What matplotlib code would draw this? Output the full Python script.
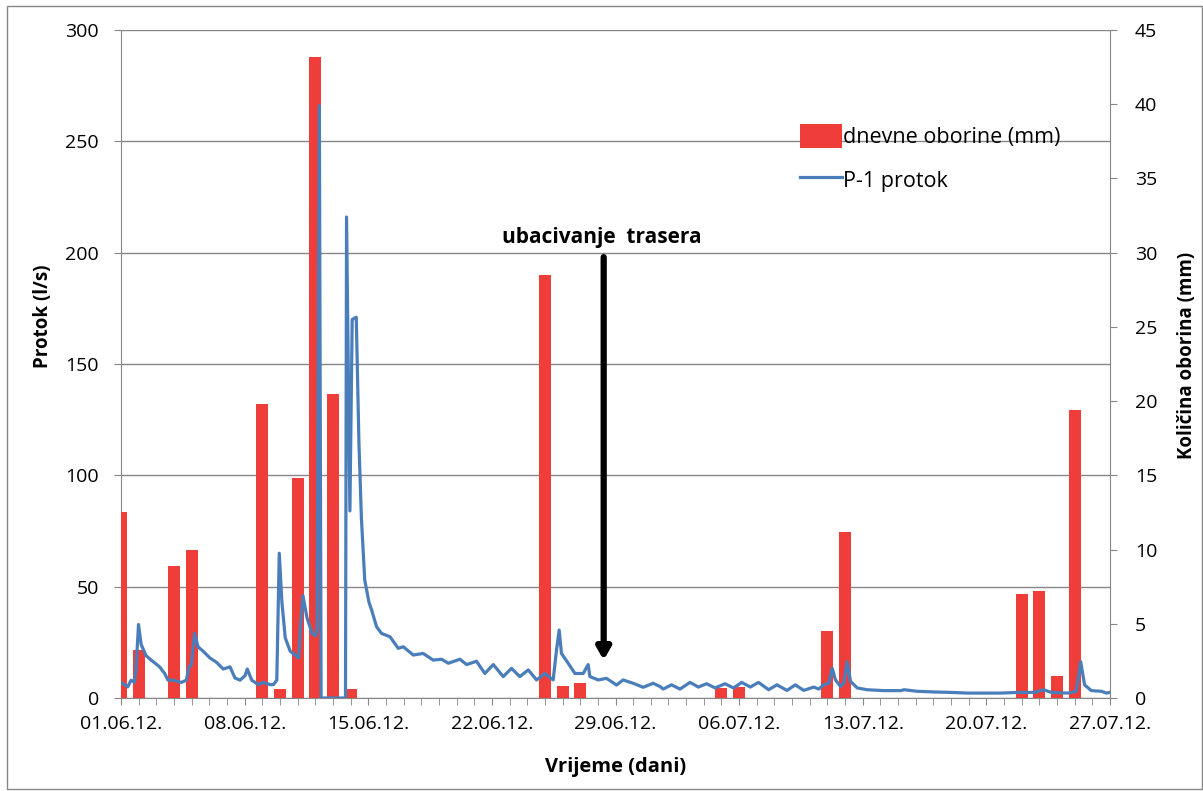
import matplotlib.pyplot as plt
from matplotlib.patches import Patch, Rectangle
from matplotlib.lines import Line2D

plt.rcParams['font.family'] = ['Open Sans', 'DejaVu Sans']

# dnevne oborine (mm), dan od 01.06.12.
dani_oborine = [0, 1, 3, 4, 8, 9, 10, 11, 12, 13, 24, 25, 26, 34, 35, 40, 41, 51, 52, 53, 54]
oborine = [12.5, 3.2, 8.9, 10.0, 19.8, 0.6, 14.8, 43.2, 20.5, 0.6, 28.5, 0.8, 1.0,
           0.65, 0.75, 4.5, 11.2, 7.0, 7.2, 1.45, 19.4]

# P-1 protok (l/s)
vrijeme = [0.00, 0.38, 0.57, 0.76, 0.85, 0.99, 1.14, 1.42, 1.71, 2.18, 2.47, 2.66, 2.94,
           3.42, 3.70, 3.85, 3.98, 4.17, 4.36, 4.65, 5.03, 5.41, 5.79, 6.17, 6.45, 6.74,
           7.02, 7.15, 7.40, 7.78, 8.06, 8.44, 8.63, 8.82, 8.96, 9.11, 9.30, 9.58, 10.06,
           10.15, 10.30, 10.53, 10.82, 11.01, 11.10, 11.23, 11.33, 12.71, 12.77, 12.96,
           13.09, 13.32, 13.47, 13.61, 13.80, 14.04, 14.19, 14.47, 14.75, 15.23, 15.70,
           15.98, 16.55, 17.11, 17.68, 18.15, 18.53, 19.19, 19.57, 20.13, 20.60, 21.08,
           21.64, 22.11, 22.58, 23.06, 23.53, 24.00, 24.47, 24.66, 24.81, 24.94, 25.32,
           25.70, 26.17, 26.45, 26.55, 27.02, 27.49, 28.06, 28.43, 29.00, 29.57, 30.13,
           30.51, 30.70, 31.17, 31.65, 32.22, 32.69, 33.16, 33.64, 34.20, 34.68, 35.15,
           35.63, 36.10, 36.67, 37.14, 37.71, 38.18, 38.66, 39.22, 39.51, 39.79, 40.08,
           40.27, 40.45, 40.74, 40.93, 41.12, 41.31, 41.69, 42.25, 43.20, 44.15, 44.34,
           45.09, 46.04, 46.99, 47.94, 48.88, 49.83, 50.78, 51.72, 52.25, 52.67, 53.62,
           54.09, 54.34, 54.56, 54.94, 55.51, 55.80, 56.00]
protok = [7, 5, 8, 7, 13, 33, 24, 19, 17, 14, 11, 8, 8,
          7, 8, 14, 15, 29, 23, 21, 18, 16, 13, 14, 9, 8,
          10, 13, 8, 6, 7, 6, 6, 8, 65, 43, 27, 21, 18,
          31, 46, 36, 29, 28, 31, 266, 0, 0, 216, 84,
          170, 171, 115, 81, 53, 43, 39.5, 32, 29, 27.5, 22.3,
          23, 19.3, 20, 17, 17.4, 15.6, 17.4, 15, 16.5, 11, 15,
          9.6, 13.3, 9.6, 12.6, 8.1, 11, 8.1, 21.6, 30.5, 20, 15.6,
          11, 11, 15, 9.6, 8.1, 8.8, 5.8, 8.1, 6.6, 4.8, 6.6,
          5.2, 4, 5.9, 4, 7, 4.9, 6.4, 4.5, 6.4, 4.5, 7,
          4.9, 7, 3.7, 5.9, 3.4, 5.9, 3.4, 4.9, 4, 5.9, 6.7,
          13.4, 8.2, 5.2, 6.7, 16.3, 7.4, 4.5, 3.7, 3.3, 3.3, 3.7,
          3, 2.7, 2.5, 2.2, 2.2, 2.2, 2.5, 2.5, 3.7, 2.5, 2.2,
          3, 16.3, 5.9, 3.3, 3, 2.2, 2.5]

oznake_dani = [0, 7, 14, 21, 28, 35, 42, 49, 56]
oznake = ['01.06.12.', '08.06.12.', '15.06.12.', '22.06.12.', '29.06.12.',
          '06.07.12.', '13.07.12.', '20.07.12.', '27.07.12.']

crvena = '#EF3E3A'
plava = '#4A7EBB'
siva = '#868686'

fig = plt.figure(figsize=(12.03, 7.91), dpi=100)
ax = fig.add_axes([0.1006, 0.1176, 0.8221, 0.8445])
ax.set_xlim(0, 56)
ax.set_ylim(0, 300)
ax.set_yticks(range(0, 301, 50))
ax.set_xticks(oznake_dani)
ax.set_xticklabels(oznake)
ax.set_xticks(range(57), minor=True)
ax.grid(axis='y', color=siva, lw=1)
ax.tick_params(axis='y', length=5, color=siva, labelsize=14, pad=11)
ax.tick_params(axis='x', which='both', length=5, color=siva, labelsize=14, pad=7)
for s in ['top', 'right']:
    ax.spines[s].set_visible(False)
for s in ['left', 'bottom']:
    ax.spines[s].set_color(siva)

ax.set_ylabel('Protok (l/s)', fontsize=13.5, fontweight='bold')
ax.yaxis.set_label_coords(-0.069, 0.572)
ax.set_xlabel('Vrijeme (dani)', fontsize=14.5, fontweight='bold')
ax.xaxis.set_label_coords(0.5, -0.088)

# oborine na desnoj osi
ax2 = ax.twinx()
ax2.set_ylim(0, 45)
ax2.set_yticks(range(0, 46, 5))
ax2.bar(dani_oborine, oborine, width=0.68, color=crvena, zorder=2)
ax2.tick_params(axis='y', length=5, color=siva, labelsize=14, pad=13)
for s in ['top', 'left', 'bottom']:
    ax2.spines[s].set_visible(False)
ax2.spines['right'].set_color(siva)
ax2.set_ylabel('Količina oborina (mm)', fontsize=13.5, fontweight='bold')
ax2.yaxis.set_label_coords(1.068, 0.513)

# protok iznad stupaca
ax3 = ax.twinx()
ax3.set_ylim(0, 300)
ax3.axis('off')
ax3.plot(vrijeme, protok, color=plava, lw=2.3)

ax3.annotate('', xy=(27.33, 17), xytext=(27.33, 198),
             arrowprops=dict(arrowstyle='-|>,head_width=0.2,head_length=0.35',
                             lw=4.5, color='black', mutation_scale=20, shrinkA=0, shrinkB=0))
ax3.text(27.2, 207, 'ubacivanje  trasera', fontsize=15, fontweight='bold',
         ha='center', va='center')

ruke = [Patch(facecolor=crvena, edgecolor='none'), Line2D([], [], color=plava, lw=2.3)]
fig.legend(ruke, ['dnevne oborine (mm)', 'P-1 protok'], loc='upper left',
           bbox_to_anchor=(0.665, 0.843), frameon=False, fontsize=15.5,
           handlelength=1.95, handleheight=1.35, handletextpad=0.05,
           labelspacing=0.9, borderpad=0, borderaxespad=0)

fig.patches.append(Rectangle((0.006, 0.003), 0.993, 0.99, transform=fig.transFigure,
                             fill=False, ec=siva, lw=1))

fig.savefig('out.png', dpi=100)
